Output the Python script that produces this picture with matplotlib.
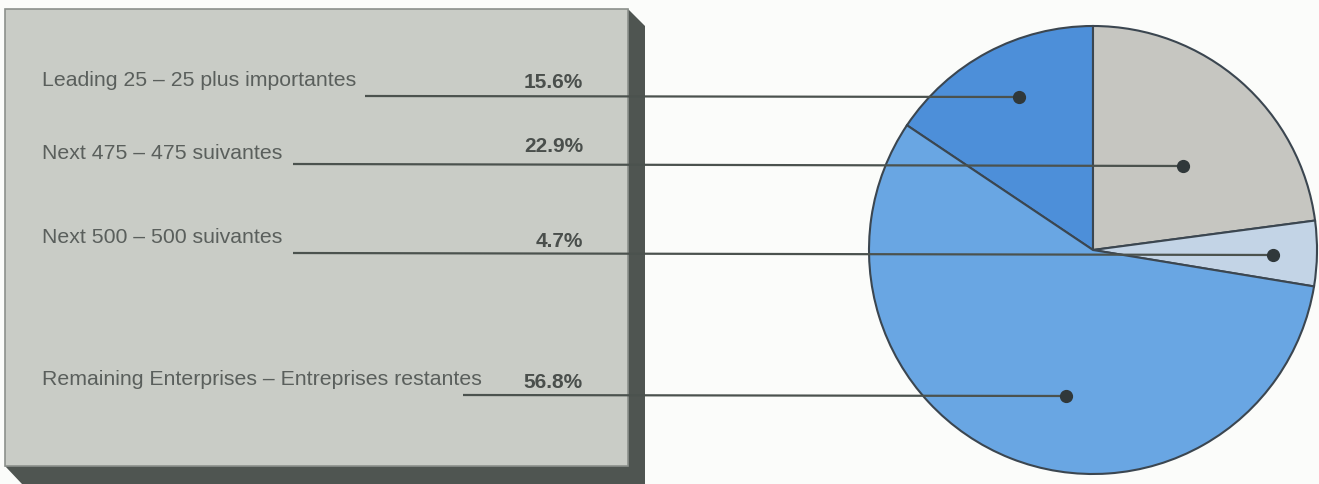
import matplotlib.pyplot as plt
from matplotlib.patches import Polygon, Rectangle

W, H = 1319, 485

# data
labels = ['Leading 25 – 25 plus importantes',
          'Next 475 – 475 suivantes',
          'Next 500 – 500 suivantes',
          'Remaining Enterprises – Entreprises restantes']
shares = [15.6, 22.9, 4.7, 56.8]
colors = ['#4d8fd9', '#c6c6c1', '#c3d4e6', '#69a6e3']

# layout (pixel rows / columns of the original drawing)
label_base = [86, 159, 243, 385]
pct_base = [88, 152, 247, 388]
line_start = [365, 293, 293, 463]
line_y = [97, 165, 254, 396]
dot_x = [1019, 1183, 1273, 1066]
dot_y = [98, 167, 256, 397]


def Y(y):
    return H - y


fig = plt.figure(figsize=(W / 100, H / 100), dpi=100)
fig.patch.set_facecolor('#fbfcfa')
ax = fig.add_axes([0, 0, 1, 1])

# box with 3D shadow
shadow = Polygon([(628, Y(10)), (645, Y(27)), (645, Y(485)), (22, Y(485)),
                  (5, Y(467)), (628, Y(467))], closed=True,
                 facecolor='#4f5551', edgecolor='none', zorder=1)
ax.add_patch(shadow)
face = Rectangle((5, Y(467)), 623, 457, facecolor='#c9ccc6',
                 edgecolor='#8c918c', linewidth=1.2, zorder=2)
ax.add_patch(face)

# pie
ax.pie(shares, colors=colors, startangle=90 + shares[0] * 3.6, counterclock=False,
       center=(1093, Y(251)), radius=224, frame=True,
       wedgeprops=dict(edgecolor='#3b4650', linewidth=1.5))

for i, lab in enumerate(labels):
    ax.text(42, Y(label_base[i]), lab, fontsize=15.3, color='#5a5f5c',
            family='Liberation Sans', va='baseline', zorder=4)
    ax.text(583, Y(pct_base[i]), f'{shares[i]}%', fontsize=15, color='#4a4f4c',
            family='Liberation Sans', fontweight='bold', ha='right',
            va='baseline', zorder=4)
    ax.plot([line_start[i], dot_x[i]], [Y(line_y[i]), Y(dot_y[i])],
            color='#4b524e', lw=1.6, zorder=5, solid_capstyle='butt')
    ax.plot(dot_x[i], Y(dot_y[i]), 'o', ms=8.5, color='#30383a', zorder=6)

ax.set_xlim(0, W)
ax.set_ylim(0, H)
ax.set_aspect('equal')
ax.axis('off')

fig.savefig('out.png', dpi=100, facecolor=fig.get_facecolor())
